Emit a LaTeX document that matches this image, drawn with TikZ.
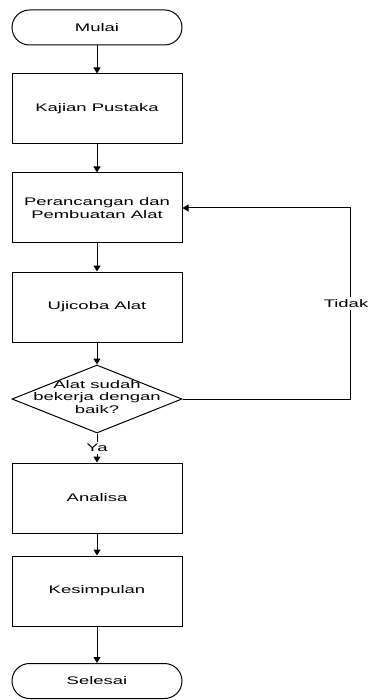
\documentclass[tikz,border=0pt]{standalone}
\usepackage{fontspec}
\usetikzlibrary{arrows.meta,shapes.geometric,shapes.misc}
\newfontfamily\flow[FakeStretch=1.68]{Liberation Sans}
\tikzset{
  box/.style={draw,line width=1pt,minimum width=170pt,minimum height=70pt,inner sep=0pt},
  term/.style={draw,line width=1pt,shape=rounded rectangle,minimum width=170pt,minimum height=35pt,inner sep=0pt},
  arr/.style={line width=1pt,-{Triangle[length=6pt,width=7pt]}},
  lbl/.style={fill=white,inner sep=2pt}
}
\begin{document}
\begin{tikzpicture}[x=1pt,y=1pt,font=\flow\fontsize{11}{12.5}\selectfont]
\useasboundingbox (0,0) rectangle (370,-700);
\path (97,-27.5) node[term](v0){Mulai};
\path (97,-109) node[box](v1){Kajian Pustaka};
\path (97,-208) node[box,align=center](v2){Perancangan dan\\Pembuatan Alat};
\path (97,-307) node[box](v3){Ujicoba Alat};
\path (97,-399) node[draw,line width=1pt,shape=diamond,minimum width=170pt,minimum height=68pt,inner sep=0pt](v4){};
\path (97,-397) node[align=center](d4){Alat sudah\\bekerja dengan\\baik?};
\path (97,-498) node[box](v5){Analisa};
\path (97,-591) node[box](v6){Kesimpulan};
\path (97,-681) node[term](v7){Selesai};

\foreach \i/\j in {0/1,1/2,2/3,3/4,5/6,6/7}
{
	\draw[arr] (v\i) -- (v\j);
}
\draw[arr] (v4) -- node[lbl]{Ya} (v5);

% jalur kembali
\coordinate (c0) at (350,-399);
\draw[arr] (v4.east) -- (c0) -- node[lbl,xshift=-4pt,inner xsep=1pt]{Tidak} (c0 |- v2.east) -- (v2.east);

\end{tikzpicture}
\end{document}
